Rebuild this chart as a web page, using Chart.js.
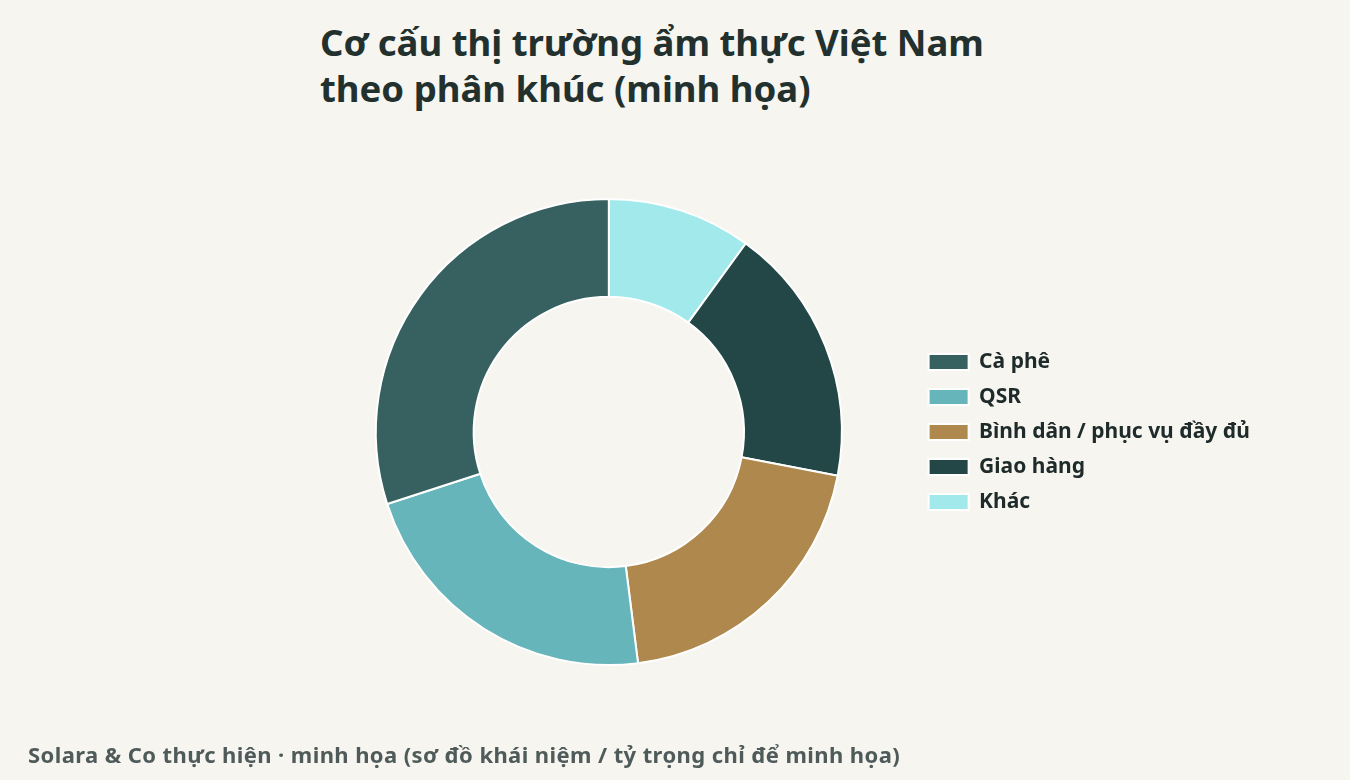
<!DOCTYPE html>
<html>
<head>
<meta charset="utf-8">
<script src="https://cdn.jsdelivr.net/npm/chart.js@4"></script>
<style>
  body { margin: 0; background: #f6f5f0; font-family: "Noto Sans", sans-serif; }
  #wrap { position: relative; width: 1350px; height: 780px; }
  #title { position: absolute; left: 320px; top: 19px; font-size: 36.5px; font-weight: bold; line-height: 46px; color: #22302e; letter-spacing: 0; }
  #foot { position: absolute; left: 28px; top: 739px; font-size: 22px; font-weight: bold; color: #4f5b5a; letter-spacing: 0.4px; }
  #box { position: absolute; left: 0; top: 0; width: 1350px; height: 780px; }
</style>
</head>
<body>
<div id="wrap">
  <div id="title">Cơ cấu thị trường ẩm thực Việt Nam<br>theo phân khúc (minh họa)</div>
  <div id="box"><canvas id="donut"></canvas></div>
  <div id="foot">Solara &amp; Co thực hiện · minh họa (sơ đồ khái niệm / tỷ trọng chỉ để minh họa)</div>
</div>
<script>
// listed in legend order; drawn reversed so the ring runs counter-clockwise like the source
const segments = ['Cà phê', 'QSR', 'Bình dân / phục vụ đầy đủ', 'Giao hàng', 'Khác'];
const shares = [30, 22, 20, 18, 10];
const colors = ['#376060', '#66b5ba', '#ae884d', '#234747', '#a2e9ec'];

new Chart(document.getElementById('donut'), {
  type: 'doughnut',
  data: {
    labels: segments.slice().reverse(),
    datasets: [{
      data: shares.slice().reverse(),
      backgroundColor: colors.slice().reverse(),
      borderColor: '#ffffff',
      borderWidth: 2
    }]
  },
  options: {
    responsive: true,
    maintainAspectRatio: false,
    animation: false,
    cutout: '58%',
    layout: { padding: { top: 198, bottom: 114, left: 303, right: 90 } },
    plugins: {
      tooltip: { enabled: false },
      legend: {
        position: 'right',
        reverse: true,
        labels: {
          boxWidth: 40,
          boxHeight: 16,
          padding: 14,
          color: '#1f2b2a',
          font: { family: 'Noto Sans', size: 21, weight: 'bold' }
        }
      }
    }
  }
});
</script>
</body>
</html>
